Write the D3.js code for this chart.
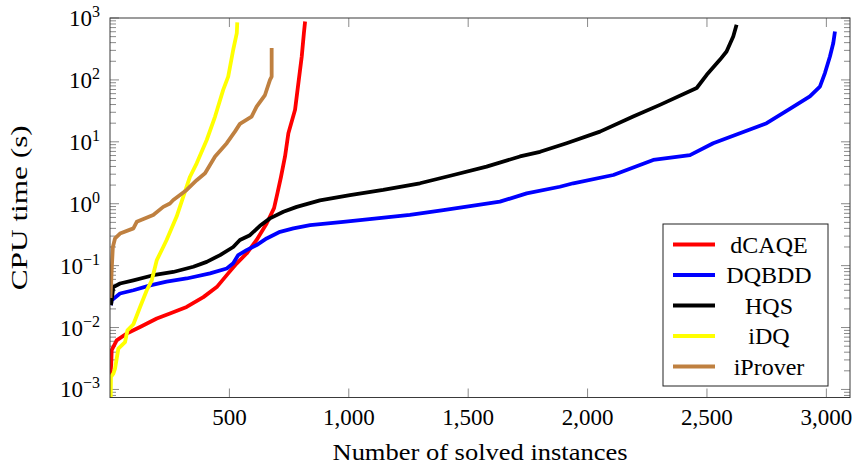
<!DOCTYPE html>
<html>
<head>
<meta charset="utf-8">
<script src="https://cdn.jsdelivr.net/npm/d3@7"></script>
<style>
  body { margin: 0; background: #fff; }
  svg text { font-family: "Liberation Serif", "Times New Roman", serif; fill: #000; }
</style>
</head>
<body>
<div id="chart"></div>
<script>
// solved instances vs CPU time (s)
const dcaqe = [[1, 0.0017], [5, 0.0025], [7, 0.0043], [28, 0.0062], [70, 0.008], [126, 0.0102], [196, 0.014],
  [251, 0.0169], [321, 0.0215], [391, 0.031], [447, 0.045], [495, 0.075], [531, 0.109], [572, 0.157],
  [614, 0.26], [656, 0.48], [687, 0.85], [701, 1.47], [716, 2.7], [733, 5.8], [747, 13.8], [775, 33],
  [789, 89], [803, 239], [812, 571], [817, 880]];
const dqbdd = [[4, 0.023], [7, 0.0277], [42, 0.0355], [98, 0.04], [168, 0.048], [237, 0.055], [321, 0.062],
  [419, 0.075], [489, 0.09], [516, 0.109], [537, 0.148], [572, 0.178], [614, 0.215], [656, 0.275],
  [712, 0.352], [768, 0.4], [838, 0.45], [977, 0.51], [1117, 0.58], [1256, 0.66], [1396, 0.79],
  [1536, 0.95], [1633, 1.08], [1745, 1.47], [1884, 1.88], [1940, 2.14], [2108, 2.91], [2275, 5.1],
  [2429, 6.1], [2526, 9.5], [2638, 13.8], [2750, 20], [2847, 34], [2931, 54], [2973, 78], [2994, 129],
  [3015, 239], [3029, 394], [3036, 607]];
const hqs = [[4, 0.023], [14, 0.045], [42, 0.0515], [98, 0.058], [181, 0.07], [265, 0.079], [349, 0.096],
  [405, 0.115], [461, 0.148], [516, 0.2], [544, 0.26], [586, 0.31], [628, 0.44], [670, 0.58], [726, 0.74],
  [782, 0.89], [879, 1.13], [1005, 1.38], [1144, 1.67], [1298, 2.14], [1438, 2.91], [1577, 3.97],
  [1717, 5.8], [1801, 6.9], [1912, 9.5], [2052, 14.6], [2191, 25.6], [2303, 39.5], [2457, 74],
  [2499, 121], [2554, 211], [2582, 288], [2610, 504], [2624, 779]];
const idq = [[3, 0.0007], [4, 0.00159], [14, 0.0018], [21, 0.00217], [35, 0.00457], [63, 0.0058],
  [73, 0.009], [98, 0.0113], [126, 0.0215], [154, 0.04], [175, 0.058], [196, 0.123], [223, 0.2],
  [237, 0.26], [279, 0.62], [307, 1.3], [335, 2.73], [363, 4.5], [405, 10.7], [440, 25.6], [474, 69],
  [495, 113], [516, 307], [531, 571], [533, 849]];
const iprover = [[2, 0.03], [8, 0.1], [12, 0.2], [21, 0.275], [42, 0.33], [98, 0.4], [112, 0.51], [181, 0.66],
  [223, 0.89], [251, 1.01], [265, 1.15], [321, 1.67], [363, 2.4], [398, 3.1], [440, 5.8], [489, 9.5],
  [523, 14.6], [544, 19.5], [593, 25.6], [614, 37], [649, 57], [670, 100], [677, 113], [677, 327]];

const solverNames = [`dCAQE`, `DQBDD`, `HQS`, `iDQ`, `iProver`];
const solverColors = [`#ff0000`, `#0000ff`, `#000000`, `#ffff00`, `#bf8040`];
const solverData = [dcaqe, dqbdd, hqs, idq, iprover];

const xTicks = [500, 1000, 1500, 2000, 2500, 3000];
const yDecades = [-3, -2, -1, 0, 1, 2, 3];

const width = 855, height = 464;
const margin = { top: 18, right: 5, bottom: 66.5, left: 110 };

const svg = d3.select(`#chart`).append(`svg`)
    .attr(`width`, width)
    .attr(`height`, height);

const x = d3.scaleLinear()
    .domain([0, 3099])
    .range([margin.left, width - margin.right]);
const y = d3.scaleLog()
    .domain([Math.pow(10, -3.13), 1000])
    .range([height - margin.bottom, margin.top]);

const x0 = x.range()[0], x1 = x.range()[1];
const y0 = y.range()[0], y1 = y.range()[1];

svg.append(`defs`).append(`clipPath`).attr(`id`, `plot-clip`)
  .append(`rect`)
    .attr(`x`, x0).attr(`y`, y1)
    .attr(`width`, x1 - x0).attr(`height`, y0 - y1);

// ticks (inside, mirrored on all sides)
const tickColor = `#8a8a8a`;
const ticks = svg.append(`g`).attr(`stroke`, tickColor).attr(`stroke-width`, 1);

xTicks.forEach((v) => {
  ticks.append(`line`).attr(`x1`, x(v)).attr(`x2`, x(v)).attr(`y1`, y0).attr(`y2`, y0 - 9);
  ticks.append(`line`).attr(`x1`, x(v)).attr(`x2`, x(v)).attr(`y1`, y1).attr(`y2`, y1 + 9);
});

const minor = [];
yDecades.forEach((d) => {
  d3.range(2, 10).forEach((m) => {
    const v = m * Math.pow(10, d);
    if (v >= y.domain()[0] && v <= y.domain()[1]) minor.push(v);
  });
});
// a few minor ticks below 1e-3
[7, 8, 9].forEach((m) => {
  const v = m * 1e-4;
  if (v >= y.domain()[0]) minor.push(v);
});

yDecades.forEach((d) => {
  const v = Math.pow(10, d);
  ticks.append(`line`).attr(`x1`, x0).attr(`x2`, x0 + 9).attr(`y1`, y(v)).attr(`y2`, y(v));
  ticks.append(`line`).attr(`x1`, x1).attr(`x2`, x1 - 9).attr(`y1`, y(v)).attr(`y2`, y(v));
});
minor.forEach((v) => {
  ticks.append(`line`).attr(`x1`, x0).attr(`x2`, x0 + 6).attr(`y1`, y(v)).attr(`y2`, y(v));
  ticks.append(`line`).attr(`x1`, x1).attr(`x2`, x1 - 6).attr(`y1`, y(v)).attr(`y2`, y(v));
});

// series
const line = d3.line()
    .x((d) => x(d[0]))
    .y((d) => y(d[1]));

svg.append(`g`).attr(`clip-path`, `url(#plot-clip)`)
  .selectAll(`path`)
    .data(solverData)
  .enter().append(`path`)
    .attr(`d`, line)
    .attr(`fill`, `none`)
    .attr(`stroke`, (d, i) => solverColors[i])
    .attr(`stroke-width`, 3.8)
    .attr(`stroke-linejoin`, `round`);

// frame
svg.append(`rect`)
    .attr(`x`, x0).attr(`y`, y1)
    .attr(`width`, x1 - x0).attr(`height`, y0 - y1)
    .attr(`fill`, `none`)
    .attr(`stroke`, `#3a3a3a`)
    .attr(`stroke-width`, 1);

// tick labels
const fmt = d3.format(`,`);
svg.append(`g`).selectAll(`text`)
    .data(xTicks)
  .enter().append(`text`)
    .attr(`x`, (d) => x(d))
    .attr(`y`, y0 + 27)
    .attr(`text-anchor`, `middle`)
    .attr(`font-size`, 23)
    .text((d) => fmt(d));

const yLabels = svg.append(`g`).selectAll(`text`)
    .data(yDecades)
  .enter().append(`text`)
    .attr(`x`, x0 - 10)
    .attr(`y`, (d) => y(Math.pow(10, d)) + 8)
    .attr(`text-anchor`, `end`)
    .attr(`font-size`, 23);
yLabels.append(`tspan`).text(`10`);
yLabels.append(`tspan`)
    .attr(`font-size`, 16)
    .attr(`dy`, -9)
    .text((d) => (d < 0 ? `\u2212${-d}` : `${d}`));

// axis titles
svg.append(`text`)
    .attr(`x`, (x0 + x1) / 2)
    .attr(`y`, 460)
    .attr(`text-anchor`, `middle`)
    .attr(`font-size`, 24)
    .attr(`textLength`, 295)
    .attr(`lengthAdjust`, `spacingAndGlyphs`)
    .text(`Number of solved instances`);

svg.append(`text`)
    .attr(`transform`, `translate(27,${(y0 + y1) / 2}) rotate(-90)`)
    .attr(`text-anchor`, `middle`)
    .attr(`font-size`, 24)
    .attr(`textLength`, 165)
    .attr(`lengthAdjust`, `spacingAndGlyphs`)
    .text(`CPU time (s)`);

// legend
const legend = svg.append(`g`);
legend.append(`rect`)
    .attr(`x`, 663).attr(`y`, 224)
    .attr(`width`, 165).attr(`height`, 162)
    .attr(`fill`, `#fff`)
    .attr(`stroke`, `#222`)
    .attr(`stroke-width`, 1);

const rows = legend.selectAll(`g.row`)
    .data(solverNames)
  .enter().append(`g`)
    .attr(`class`, `row`)
    .attr(`transform`, (d, i) => `translate(0,${244.5 + i * 30.5})`);
rows.append(`line`)
    .attr(`x1`, 673).attr(`x2`, 715)
    .attr(`stroke`, (d, i) => solverColors[i])
    .attr(`stroke-width`, 3.8);
rows.append(`text`)
    .attr(`x`, 769)
    .attr(`y`, 8)
    .attr(`text-anchor`, `middle`)
    .attr(`font-size`, 24)
    .text((d) => d);
</script>
</body>
</html>
